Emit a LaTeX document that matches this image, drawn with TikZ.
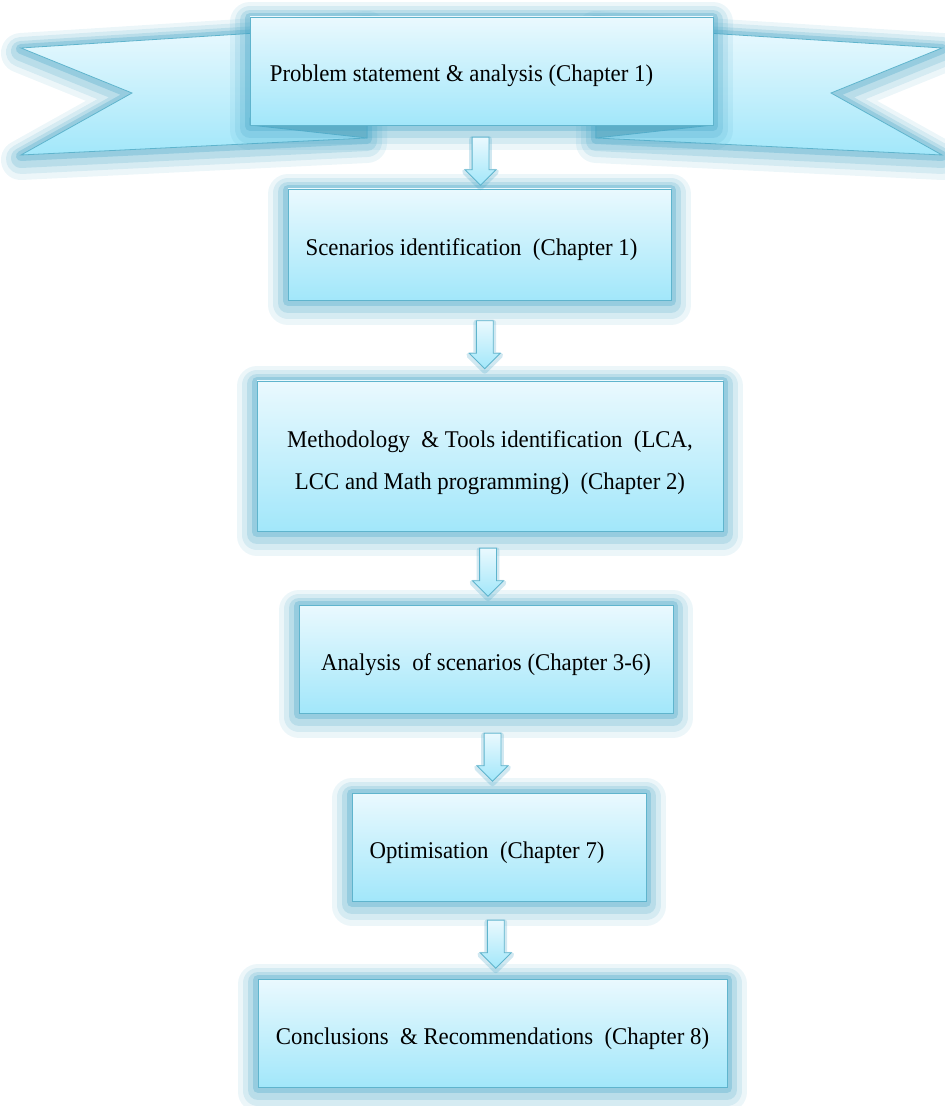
\documentclass[tikz,border=0pt]{standalone}
\usepackage{fontspec}
\setmainfont{Liberation Serif}[FakeStretch=0.95]
\usepackage{tikz}
\usetikzlibrary{shapes,shapes.arrows,calc,positioning}
\definecolor{boxtop}{RGB}{234,249,254}
\definecolor{boxbot}{RGB}{162,231,250}
\definecolor{boxline}{RGB}{95,180,205}
\definecolor{glowc}{RGB}{70,165,198}
\definecolor{foldc}{RGB}{125,188,208}
\tikzset{
    semithick,
    glow/.style ={preaction={draw=glowc, line width=20pt, opacity=.1, line join=round, transform canvas={yshift=-2.5pt}},
                  preaction={draw=glowc, line width=15pt, opacity=.14, line join=round, transform canvas={yshift=-2pt}},
                  preaction={draw=glowc, line width=10pt, opacity=.2, line join=round, transform canvas={yshift=-1.5pt}},
                  preaction={draw=glowc, line width=5pt, opacity=.3, line join=round, transform canvas={yshift=-0.5pt}}},
    box/.style ={rectangle, draw=boxline, thin, top color=boxtop, bottom color=boxbot, glow,
                 font=\fontsize{12}{21}\selectfont, align=center, inner sep=0pt},
    oneline/.style ={text height=11pt, text depth=0pt},
    wing/.style ={draw=boxline, thin, top color=boxtop, bottom color=boxbot, glow},
    fold/.style ={draw=boxline, thin, fill=foldc},
    downarrow/.style ={single arrow, shape border rotate=270, draw=boxline, thin,
                 top color=boxtop, bottom color=boxbot, inner sep=4pt,
                 minimum height=24pt, minimum width=15pt, single arrow head extend=3.5pt,
                 single arrow tip angle=90, anchor=center,
                 preaction={draw=glowc, line width=3pt, opacity=.25, line join=round, transform canvas={yshift=-1pt}}}
}
\begin{document}
\begin{tikzpicture}[x=0.5pt,y=-0.5pt]
  \useasboundingbox (0,0) rectangle (944,1106);

  % banner
  \path[wing] (21,48) -- (367,26) -- (367,138) -- (21,155) -- (132,93) -- cycle;
  \path[wing] (942,48) -- (596,26) -- (596,138) -- (942,155) -- (831,93) -- cycle;
  \path[fold] (250,118) -- (250,125) -- (367,138) -- (367,118) -- cycle;
  \path[fold] (713,118) -- (713,125) -- (596,138) -- (596,118) -- cycle;

  \node[box, oneline, minimum width=231.5pt, minimum height=54pt] (0) at (481.5,71)
       {Problem statement \& analysis (Chapter 1)\hspace{20pt}};
  \node[box, oneline, minimum width=191.5pt, minimum height=55.5pt] (1) at (479.5,244.5)
       {Scenarios identification\ \ (Chapter 1)\hspace{8pt}};
  \node[box, text height=33pt, text depth=0pt, minimum width=233pt, minimum height=75pt] (2) at (490,456)
       {Methodology\ \ \& Tools identification\ \ (LCA,\\ LCC and Math programming)\ \ (Chapter 2)};
  \node[box, oneline, minimum width=187pt, minimum height=54pt] (3) at (486,659)
       {Analysis\ \ of scenarios (Chapter 3-6)};
  \node[box, oneline, minimum width=147pt, minimum height=54pt] (4) at (499,847)
       {Optimisation\ \ (Chapter 7)\hspace{12pt}};
  \node[box, oneline, minimum width=234.5pt, minimum height=54pt] (5) at (492.5,1033)
       {Conclusions\ \ \& Recommendations\ \ (Chapter 8)};

  \path (0.south) -- node[downarrow] (a1) {} (1.north);
  \path (1.south) -- node[downarrow] (a2) {} (2.north);
  \path (2.south) -- node[downarrow] (a3) {} (3.north);
  \path (3.south) -- node[downarrow] (a4) {} (4.north);
  \path (4.south) -- node[downarrow] (a5) {} (5.north);
\end{tikzpicture}
\end{document}
